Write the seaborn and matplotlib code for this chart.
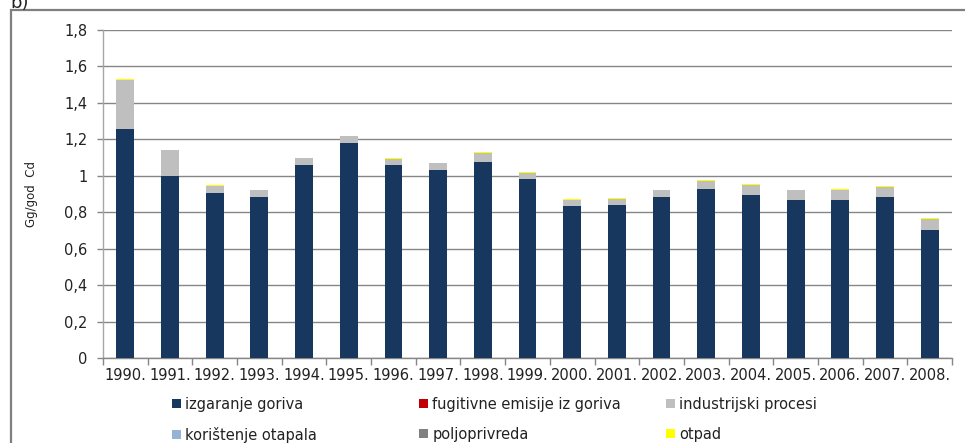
import seaborn as sns
import pandas as pd
import numpy as np
from matplotlib import pyplot as plt
from matplotlib.patches import Patch, Rectangle
from matplotlib.ticker import FixedLocator, FuncFormatter

years = [str(y) + '.' for y in range(1990, 2009)]

# Gg/god Cd po sektorima
izgaranje = [1.257, 1.000, 0.907, 0.885, 1.061, 1.182, 1.061, 1.032, 1.076, 0.982,
             0.834, 0.840, 0.884, 0.928, 0.895, 0.867, 0.867, 0.884, 0.703]
fugitivne = [0.0] * 19
industrijski = [0.269, 0.142, 0.037, 0.037, 0.034, 0.036, 0.033, 0.038, 0.049, 0.033,
                0.033, 0.032, 0.038, 0.043, 0.055, 0.055, 0.055, 0.054, 0.060]
otapala = [0.0] * 19
poljoprivreda = [0.0] * 19
otpad = [0.005, 0.0, 0.005, 0.0, 0.005, 0.0, 0.006, 0.0, 0.006, 0.006,
         0.005, 0.006, 0.0, 0.006, 0.005, 0.0, 0.005, 0.006, 0.005]

series = [
    ('izgaranje goriva', izgaranje, '#17375E'),
    ('fugitivne emisije iz goriva', fugitivne, '#C00000'),
    ('industrijski procesi', industrijski, '#BFBFBF'),
    ('korištenje otapala', otapala, '#95B3D7'),
    ('poljoprivreda', poljoprivreda, '#808080'),
    ('otpad', otpad, '#FFFF00'),
]

df = pd.DataFrame({name: vals for name, vals, _ in series}, index=years)
cum = df.cumsum(axis=1)

sns.set_style('white')
plt.rcParams['font.family'] = ['DejaVu Sans']

fig = plt.figure(figsize=(9.65, 4.43), dpi=100)
ax = fig.add_axes([103 / 965, 1 - 358 / 443, (952 - 103) / 965, (358 - 30) / 443])

# stacked bars: draw cumulative totals from the top layer down
for name, _, color in reversed(series):
    sns.barplot(x=years, y=cum[name].values, color=color, saturation=1,
                width=0.4, linewidth=0, errorbar=None, ax=ax, zorder=3)

grid_c = '#868686'
ax.set_ylim(0, 1.8)
ax.set_xlim(-0.5, len(years) - 0.5)
ax.set_yticks(np.arange(0, 1.81, 0.2))
ax.yaxis.set_major_formatter(FuncFormatter(lambda v, p: f'{round(v, 1):g}'.replace('.', ',')))
ax.yaxis.grid(True, color=grid_c, linewidth=1)
ax.set_axisbelow(True)
for s in ['top', 'right']:
    ax.spines[s].set_visible(False)
ax.spines['left'].set_color('#A6A6A6')
ax.spines['bottom'].set_color(grid_c)
ax.spines['left'].set_linewidth(1)
ax.spines['bottom'].set_linewidth(1)

ax.tick_params(axis='y', length=4, width=1, color=grid_c, pad=7, labelsize=10.5, labelcolor='#222222', left=True)
ax.tick_params(axis='x', which='major', length=0, pad=7, labelsize=10.5, labelcolor='#222222')
ax.xaxis.set_minor_locator(FixedLocator(np.arange(-0.5, len(years), 1)))
ax.tick_params(axis='x', which='minor', length=5, width=1, color=grid_c, bottom=True)
ax.set_xlabel('')

fig.text(32 / 965, 1 - 194 / 443, 'Gg/god  Cd', rotation=90, ha='center', va='center',
         fontsize=8.5, color='#222222')
fig.text(10 / 965, 1 - 8 / 443, 'b)', fontsize=13, va='baseline', color='#222222')

# outer frame
fig.patches.append(Rectangle((11 / 965, -0.2), 1.2, 1 - 10 / 443 + 0.2, transform=fig.transFigure,
                             fill=False, edgecolor='#7F7F7F', linewidth=1.6))

handles = {name: Patch(facecolor=color, edgecolor='none') for name, _, color in series}
columns = [
    (172, ['izgaranje goriva', 'korištenje otapala']),
    (419, ['fugitivne emisije iz goriva', 'poljoprivreda']),
    (666, ['industrijski procesi', 'otpad']),
]
for xpx, names in columns:
    fig.legend([handles[n] for n in names], names, loc='upper left',
               bbox_to_anchor=(xpx / 965, 1 - 397 / 443), frameon=False,
               fontsize=10.5, handlelength=0.6, handleheight=0.6, handletextpad=0.3,
               labelspacing=1.0, borderpad=0, borderaxespad=0, labelcolor='#222222')

plt.savefig('out.png', dpi=100)
